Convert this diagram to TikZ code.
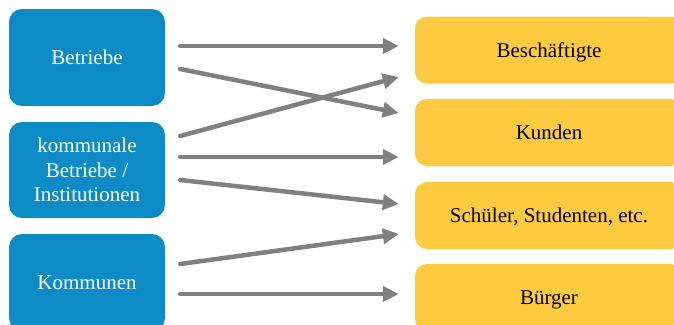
\documentclass[tikz,border=0pt]{standalone}
\usepackage{fontspec}
\setmainfont{Liberation Serif}
\usetikzlibrary{arrows.meta}
\definecolor{boxblue}{RGB}{12,139,199}
\definecolor{boxyellow}{RGB}{254,203,64}
\definecolor{arrowgray}{RGB}{128,128,128}
\begin{document}
\begin{tikzpicture}[x=1pt,y=-1pt,
  srcbox/.style={rectangle, rounded corners=13pt, fill=boxblue, draw=none, text=white, minimum width=156pt, align=center, font=\fontsize{21}{24.5}\selectfont},
  dstbox/.style={rectangle, rounded corners=12pt, fill=boxyellow, draw=none, text=black, minimum width=268pt, minimum height=67pt, text depth=0pt, font=\fontsize{21}{24.5}\selectfont},
  flow/.style={draw=arrowgray, line width=4.5pt, line cap=round, -{Triangle[length=16pt,width=15pt]}}]
\clip (0,0) rectangle (674,324);
\fill[white] (0,0) rectangle (674,324);
\node [srcbox, minimum height=97pt] (bet) at (87,57.5) {Betriebe};
\node [srcbox, minimum height=96pt] (kom) at (87,170) {kommunale\\Betriebe /\\Institutionen};
\node [srcbox, minimum height=97pt] (gem) at (87,282.5) {Kommunen};
\node [dstbox] (besch) at (549,50) {Besch\"aftigte};
\node [dstbox] (kun) at (549,132.5) {Kunden};
\node [dstbox] (sch) at (549,215.5) {Sch\"uler, Studenten, etc.};
\node [dstbox] (bur) at (549,297.5) {B\"urger};
\draw [flow] ([shift={(15,-11.5)}]bet.east) -- ([shift={(-16,-4)}]besch.west);
\draw [flow] ([shift={(15,11.5)}]bet.east) -- ([shift={(-16,-19.5)}]kun.west);
\draw [flow] ([shift={(15,-34)}]kom.east) -- ([shift={(-16,27)}]besch.west);
\draw [flow] ([shift={(15,-13)}]kom.east) -- ([shift={(-16,24.5)}]kun.west);
\draw [flow] ([shift={(15,10)}]kom.east) -- ([shift={(-16,-11.5)}]sch.west);
\draw [flow] ([shift={(15,-18.5)}]gem.east) -- ([shift={(-16,18.5)}]sch.west);
\draw [flow] ([shift={(15,11.5)}]gem.east) -- ([shift={(-16,-3.5)}]bur.west);
\end{tikzpicture}
\end{document}
